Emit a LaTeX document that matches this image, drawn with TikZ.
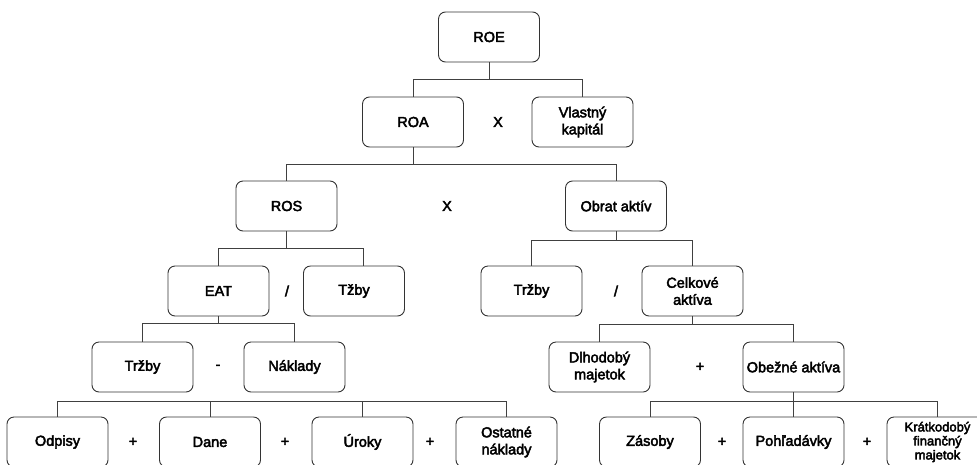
\documentclass[tikz,border=0pt]{standalone}
\usepackage{fontspec}
\setmainfont{Liberation Sans}
\newfontfamily\boxfont{Liberation Sans}[FakeBold=3]
\tikzset{
  box/.style={draw=black!80,line width=0.9pt,rounded corners=7pt,minimum width=101pt,minimum height=50pt,align=center,inner sep=1pt,font=\boxfont\fontsize{14.5}{17}\selectfont},
  smallbox/.style={box,font=\boxfont\fontsize{13}{14}\selectfont},
  op/.style={inner sep=1pt,font=\boxfont\fontsize{14.5}{17}\selectfont},
  link/.style={draw=black!75,line width=0.9pt}
}

\begin{document}
\begin{tikzpicture}[x=1pt,y=-1pt]
\useasboundingbox (0,0) rectangle (977,464);
% level 1 and 2
\node[box] (roe) at (489,37) {ROE};
\node[box] (roa) at (413,122) {ROA};
\node[box] (vk) at (582.5,122) {Vlastný\\kapitál};
\node[op] (x1) at (498,122) {X};
% level 3
\node[box] (ros) at (286.5,206) {ROS};
\node[box] (obrat) at (616,206) {Obrat aktív};
\node[op] (x2) at (447,206) {X};
% level 4
\node[box] (eat) at (218.5,291) {EAT};
\node[box] (tzby) at (354,291) {Tžby};
\node[op] (div1) at (287,291) {/};
\node[box] (trzbyR) at (531.5,291) {Tržby};
\node[box] (celk) at (692.5,291) {Celkové\\aktíva};
\node[op] (div2) at (616,291) {/};
% level 5
\node[box] (trzbyL) at (142.5,367) {Tržby};
\node[box] (naklady) at (294.5,367) {Náklady};
\node[op] (minus) at (218,367) {-};
\node[box] (dlh) at (599.5,367) {Dlhodobý\\majetok};
\node[box] (obez) at (793.5,367) {Obežné aktíva};
\node[op] (plus1) at (700,367) {+};
% level 6
\node[box] (odpisy) at (57.5,442) {Odpisy};
\node[box] (dane) at (210,442) {Dane};
\node[box] (uroky) at (362.5,442) {Úroky};
\node[box] (ostatne) at (506.5,442) {Ostatné\\náklady};
\node[op] (plus2) at (133,442) {+};
\node[op] (plus3) at (285,442) {+};
\node[op] (plus4) at (430,442) {+};
\node[box] (zasoby) at (650,442) {Zásoby};
\node[box] (pohl) at (793.5,442) {Pohľadávky};
\node[smallbox] (kratk) at (937.5,442) {Krátkodobý\\finančný\\majetok};
\node[op] (plus5) at (722,442) {+};
\node[op] (plus6) at (867,442) {+};
% connectors
\draw[link] (roe.south) -- ++(0,17) coordinate (b1) -| (roa.north);
\draw[link] (b1) -| (vk.north);
\draw[link] (roa.south) -- ++(0,17) coordinate (b2) -| (ros.north);
\draw[link] (b2) -| (obrat.north);
\draw[link] (ros.south) -- ++(0,17) coordinate (b3) -| (eat.north);
\draw[link] (b3) -| ([xshift=9pt]tzby.north);
\draw[link] (obrat.south) -- ++(0,9) coordinate (b4) -| (trzbyR.north);
\draw[link] (b4) -| (celk.north);
\draw[link] (eat.south) -- ++(0,7) coordinate (b5) -| (trzbyL.north);
\draw[link] (b5) -| (naklady.north);
\draw[link] (celk.south) -- ++(0,8) coordinate (b6) -| (dlh.north);
\draw[link] (b6) -| (obez.north);
\draw[link] (odpisy.north) -- ++(0,-15) coordinate (b7) -| (ostatne.north);
\draw[link] (dane.north) -- (dane.north |- b7);
\draw[link] (uroky.north) -- (uroky.north |- b7);
\draw[link] (obez.south) -- ++(0,9) coordinate (b8) -| (zasoby.north);
\draw[link] (b8) -| (kratk.north);
\draw[link] (b8) -- (pohl.north);
\end{tikzpicture}
\end{document}
